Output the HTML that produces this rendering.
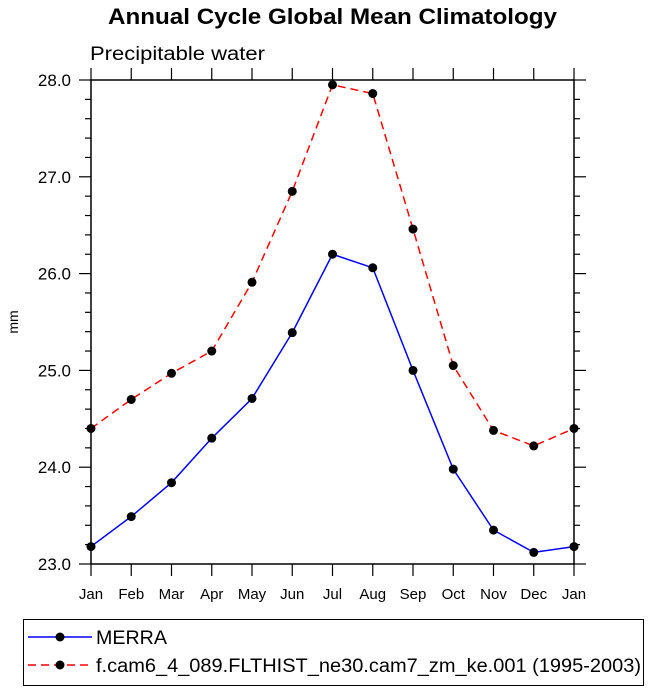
<!DOCTYPE html>
<html><head><meta charset="utf-8"><style>
body{margin:0;background:#fff;width:649px;height:691px;overflow:hidden;font-family:"Liberation Sans",sans-serif}
</style></head><body>
<svg id="c" width="649" height="691" xmlns="http://www.w3.org/2000/svg" font-family="Liberation Sans, sans-serif">
<text x="108" y="24" font-size="22" font-weight="bold" textLength="449" lengthAdjust="spacingAndGlyphs">Annual Cycle Global Mean Climatology</text>
<text x="90" y="60" font-size="19" textLength="175" lengthAdjust="spacingAndGlyphs">Precipitable water</text>
<text x="0" y="0" font-size="14" transform="translate(18,322) rotate(-90)" text-anchor="middle">mm</text>
<g id="axes"></g><g id="series"></g>
<g>
<rect x="23.5" y="619.5" width="620" height="66" fill="none" stroke="#000"/>
<g>
<line x1="28" y1="637" x2="92" y2="637" stroke="#0000ff" stroke-width="1.5"/><circle cx="60" cy="637" r="4.5"/>
<text x="96" y="644" font-size="19" textLength="71" lengthAdjust="spacingAndGlyphs">MERRA</text></g>
<g>
<line x1="28" y1="665" x2="92" y2="665" stroke="#ff0000" stroke-width="1.5" stroke-dasharray="8,5"/><circle cx="60" cy="665" r="4.5"/>
<text x="96" y="672" font-size="19" textLength="545" lengthAdjust="spacingAndGlyphs">f.cam6_4_089.FLTHIST_ne30.cam7_zm_ke.001 (1995-2003)</text></g>
</g>
</svg>
<script>
const months=["Jan","Feb","Mar","Apr","May","Jun","Jul","Aug","Sep","Oct","Nov","Dec","Jan"];
const merra=[23.18,23.49,23.84,24.30,24.71,25.39,26.20,26.06,25.00,23.98,23.35,23.12,23.18];
const cam=[24.40,24.70,24.97,25.20,25.91,26.85,27.95,27.86,26.46,25.05,24.38,24.22,24.40];
const yTicks=[23.0,24.0,25.0,26.0,27.0,28.0];
const X0=91,X1=574,Y0=564,Y1=80,YMIN=23,YMAX=28;
const xs=i=>X0+(X1-X0)*i/(months.length-1);
const ys=v=>Y0-(v-YMIN)/(YMAX-YMIN)*(Y0-Y1);
const NS="http://www.w3.org/2000/svg";
function mk(t,a,p){const e=document.createElementNS(NS,t);for(const k in a)e.setAttribute(k,a[k]);p.appendChild(e);return e;}
const ax=document.getElementById('axes');
const fr=mk('rect',{x:X0,y:Y1,width:X1-X0,height:Y0-Y1,fill:'none',stroke:'#000','stroke-width':1.5},ax);


months.forEach((m,i)=>{const x=xs(i);
mk('line',{x1:x,y1:Y0,x2:x,y2:Y0+12,stroke:'#000','stroke-width':1.2},ax);
mk('line',{x1:x,y1:Y1,x2:x,y2:Y1-12,stroke:'#000','stroke-width':1.2},ax);
const t=mk('text',{x:x,y:Y0+35,'text-anchor':'middle','font-size':15},ax);t.textContent=m;

});
for(let v=YMIN;v<=YMAX+1e-6;v+=0.2){const y=ys(v);const maj=Math.abs(v-Math.round(v))<1e-6;const L=maj?12:6;
mk('line',{x1:X0,y1:y,x2:X0-L,y2:y,stroke:'#000','stroke-width':1.2},ax);
mk('line',{x1:X1,y1:y,x2:X1+L,y2:y,stroke:'#000','stroke-width':1.2},ax);}
yTicks.forEach(v=>{const t=mk('text',{x:X0-20,y:ys(v)+6,'text-anchor':'end','font-size':17},ax);t.textContent=v.toFixed(1);

});
const sg=document.getElementById('series');
function series(d,col,dash,name){const g=mk('g',{},sg);


mk('polyline',{points:d.map((v,i)=>xs(i)+','+ys(v)).join(' '),fill:'none',stroke:col,'stroke-width':1.5,'stroke-dasharray':dash},g);
d.forEach((v,i)=>mk('circle',{cx:xs(i),cy:ys(v),r:4.5,fill:'#000'},g));}
series(cam,'#ff0000','8,5','series-cam');
series(merra,'#0000ff','none','series-merra');
</script>
</body></html>
